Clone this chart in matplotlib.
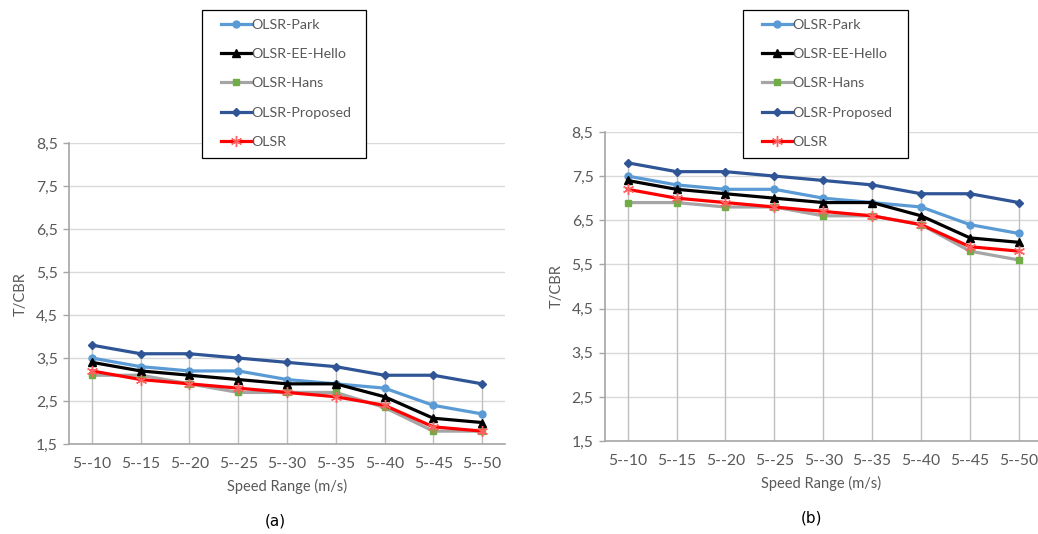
import matplotlib.pyplot as plt
from matplotlib.patches import Rectangle

plt.rcParams["font.family"] = ["Lato", "DejaVu Sans"]

categories = ["5--10", "5--15", "5--20", "5--25", "5--30", "5--35", "5--40", "5--45", "5--50"]
series_names = ["OLSR-Park", "OLSR-EE-Hello", "OLSR-Hans", "OLSR-Proposed", "OLSR"]

# panel (a)
park_a = [3.5, 3.3, 3.2, 3.2, 3.0, 2.9, 2.8, 2.4, 2.2]
hello_a = [3.4, 3.2, 3.1, 3.0, 2.9, 2.9, 2.6, 2.1, 2.0]
hans_a = [3.1, 3.1, 2.9, 2.7, 2.7, 2.7, 2.35, 1.8, 1.8]
proposed_a = [3.8, 3.6, 3.6, 3.5, 3.4, 3.3, 3.1, 3.1, 2.9]
olsr_a = [3.2, 3.0, 2.9, 2.8, 2.7, 2.6, 2.4, 1.9, 1.8]

# panel (b)
park_b = [7.5, 7.3, 7.2, 7.2, 7.0, 6.9, 6.8, 6.4, 6.2]
hello_b = [7.4, 7.2, 7.1, 7.0, 6.9, 6.9, 6.6, 6.1, 6.0]
hans_b = [6.9, 6.9, 6.8, 6.8, 6.6, 6.6, 6.4, 5.8, 5.6]
proposed_b = [7.8, 7.6, 7.6, 7.5, 7.4, 7.3, 7.1, 7.1, 6.9]
olsr_b = [7.2, 7.0, 6.9, 6.8, 6.7, 6.6, 6.4, 5.9, 5.8]

yticks = [1.5, 2.5, 3.5, 4.5, 5.5, 6.5, 7.5, 8.5]
ytick_labels = ["1,5", "2,5", "3,5", "4,5", "5,5", "6,5", "7,5", "8,5"]

styles = {
    "OLSR-Park": dict(color="#5B9BD5", marker="o", ms=5, mfc="#5B9BD5", mec="#5B9BD5", z=4),
    "OLSR-EE-Hello": dict(color="#000000", marker="^", ms=5.5, mfc="#000000", mec="#000000", z=5),
    "OLSR-Hans": dict(color="#A5A5A5", marker="s", ms=5, mfc="#70AD47", mec="#70AD47", z=3),
    "OLSR-Proposed": dict(color="#2F5597", marker="D", ms=4, mfc="#2F5597", mec="#2F5597", z=4),
    "OLSR": dict(color="#FF0000", marker=(6, 2, 0), ms=8, mfc="#FF0000", mec="#FF6060", z=6),
}

text_color = "#595959"
W, H = 1038, 534

fig = plt.figure(figsize=(W / 100, H / 100), dpi=100)


def draw_panel(rect, data, xlim, box_px, tag, tag_xy):
    ax = fig.add_axes(rect)
    x = list(range(len(categories)))
    # drop lines from the axis up to the top series
    tops = [max(vals) for vals in zip(*data)]
    ax.vlines(x, 1.5, tops, color="#BFBFBF", lw=1, zorder=1)
    for name, vals in zip(series_names, data):
        s = styles[name]
        ax.plot(x, vals, color=s["color"], lw=2.3, marker=s["marker"], ms=s["ms"],
                mfc=s["mfc"], mec=s["mec"], label=name, zorder=s["z"])
    ax.set_xlim(*xlim)
    ax.set_ylim(1.5, 8.5)
    ax.set_yticks(yticks)
    ax.set_yticklabels(ytick_labels)
    ax.set_xticks(x)
    ax.set_xticklabels(categories)
    ax.yaxis.grid(True, color="#D9D9D9", lw=1)
    ax.set_axisbelow(True)
    ax.tick_params(axis="x", length=0, labelsize=11.3, colors=text_color, pad=9)
    ax.tick_params(axis="y", length=4, width=1, color="#A6A6A6",
                   labelsize=11.3, labelcolor=text_color, pad=4)
    for side in ["top", "right"]:
        ax.spines[side].set_visible(False)
    for side in ["left", "bottom"]:
        ax.spines[side].set_color("#A6A6A6")
        ax.spines[side].set_linewidth(1.2)
    ax.set_xlabel("Speed Range (m/s)", fontsize=10.5, color=text_color, labelpad=6)
    ax.set_ylabel("T/CBR", fontsize=10.5, color=text_color, labelpad=6)

    # legend box drawn over the plot area, legend entries inside it
    x0, y0, x1, y1 = box_px
    fig.add_artist(Rectangle((x0 / W, 1 - y1 / H), (x1 - x0) / W, (y1 - y0) / H,
                             transform=fig.transFigure, facecolor="white",
                             edgecolor="black", lw=0.9, zorder=8))
    handles, labels = ax.get_legend_handles_labels()
    leg = fig.legend(handles, labels, loc="upper left",
                     bbox_to_anchor=((x0 + 19) / W, 1 - (y0 + 9) / H),
                     frameon=False, fontsize=10.3, handlelength=2.15,
                     handletextpad=0.0, labelspacing=1.2, borderpad=0,
                     borderaxespad=0)
    leg.set_zorder(9)
    for t in leg.get_texts():
        t.set_color(text_color)

    fig.text(tag_xy[0] / W, 1 - tag_xy[1] / H, tag, ha="center", va="center",
             fontsize=11, family="DejaVu Sans")
    return ax


draw_panel([0.0665, 0.1685, 0.42, 0.5635],
           [park_a, hello_a, hans_a, proposed_a, olsr_a],
           (-0.47, 8.47), (202, 10, 366, 158), "(a)", (275, 521))
draw_panel([0.5825, 0.174, 0.4175, 0.579],
           [park_b, hello_b, hans_b, proposed_b, olsr_b],
           (-0.47, 8.39), (743, 10, 908, 158), "(b)", (812, 518))

fig.savefig("out.png", dpi=100)
